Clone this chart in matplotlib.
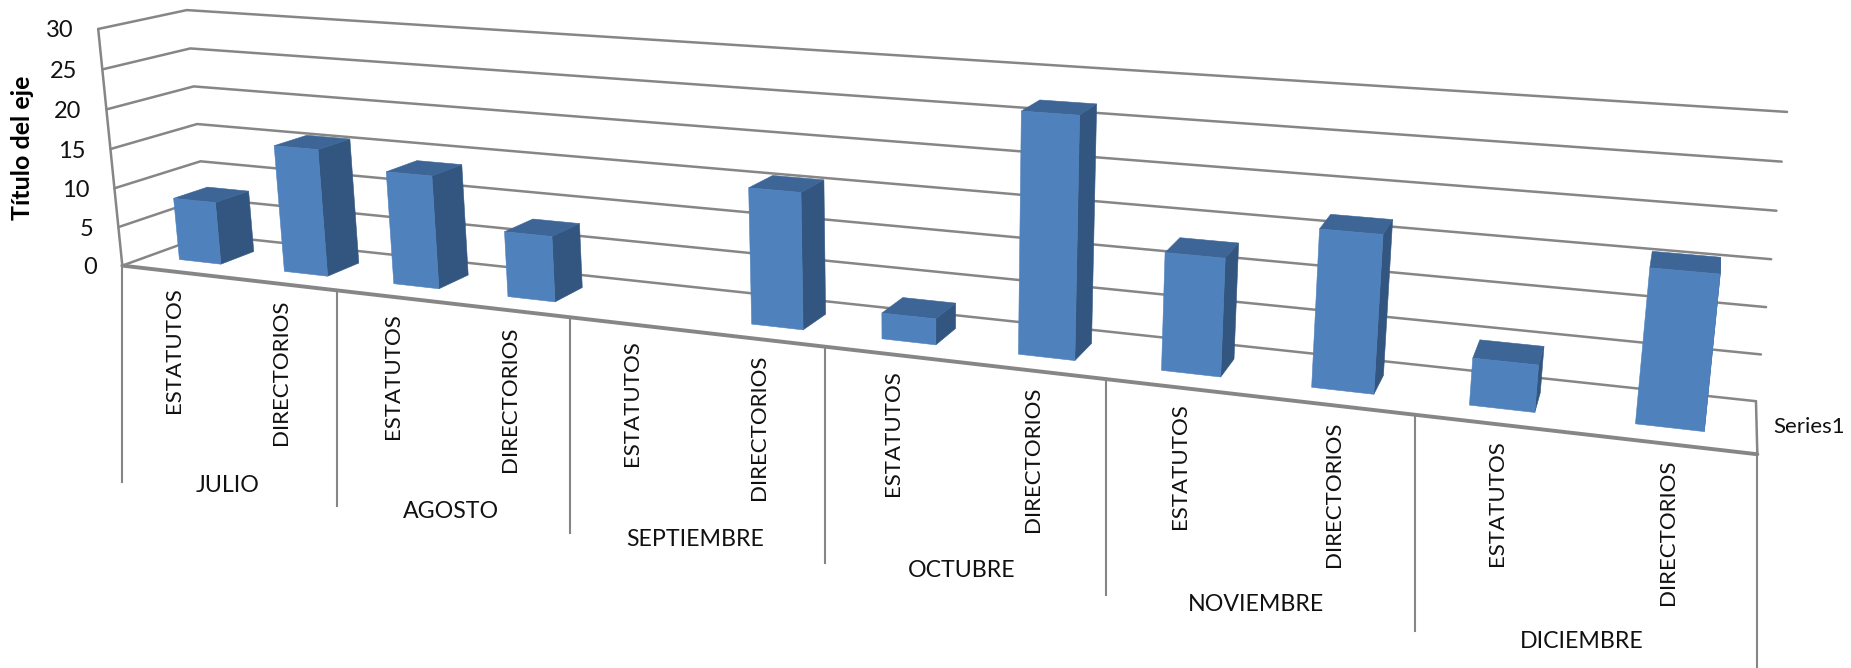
"""Excel style 3D column chart, drawn with a fitted perspective projection."""

import matplotlib

matplotlib.use("Agg")
import matplotlib.pyplot as plt
import numpy as np
from matplotlib.patches import Polygon

plt.rcParams["font.family"] = ["Lato", "DejaVu Sans"]

months = ["JULIO", "AGOSTO", "SEPTIEMBRE", "OCTUBRE", "NOVIEMBRE", "DICIEMBRE"]
sub_labels = ["ESTATUTOS", "DIRECTORIOS"]
estatutos = [8, 14, 0, 3, 13, 5]
directorios = [16, 8, 16, 27, 17, 16]
y_ticks = [0, 5, 10, 15, 20, 25, 30]
series_name = "Series1"
axis_title = "Título del eje"

FRONT = "#4F81BD"
SIDE = "#335680"
TOP = "#3D6595"
GRID = "#868686"
TEXT = "#111111"

# chart position (slot along the axis, depth 0-1, value) -> pixel in the figure
CALIBRATION = [
    (0, 0, 0, 123, 265), (0, 0, 30, 98, 29),
    (0, 1, 0, 207, 235), (0, 1, 30, 187, 10),
    (12, 1, 0, 1756, 401), (12, 1, 30, 1787, 112),
    (2, 0, 0, 336, 291), (4, 0, 0, 570, 317), (6, 0, 0, 825, 347),
    (8, 0, 0, 1106, 379), (10, 0, 0, 1415, 415), (12, 0, 0, 1757, 454),
]


def fit_projection(points):
    """Least squares fit of the 3D to 2D perspective matrix."""
    rows, target = [], []
    for u, d, v, px, py in points:
        rows.append([u, d, v, 1, 0, 0, 0, 0, -px * u, -px * d, -px * v])
        rows.append([0, 0, 0, 0, u, d, v, 1, -py * u, -py * d, -py * v])
        target += [px, py]
    coef = np.linalg.lstsq(np.array(rows, float), np.array(target, float), rcond=None)[0]
    return np.append(coef, 1.0).reshape(3, 4)


matrix = fit_projection(CALIBRATION)


def project(u, d, v):
    x, y, w = matrix @ np.array([u, d, v, 1.0])
    return x / w, y / w


def draw_line(ax, points, width=1.8, zorder=1):
    xs, ys = zip(*[project(*p) for p in points])
    ax.plot(xs, ys, color=GRID, lw=width, zorder=zorder, solid_capstyle="round")


def draw_bar(ax, slot, value, zorder):
    """Draw one column; gap width 150% leaves 0.4 of a slot for it."""
    u0, u1 = slot + 0.3, slot + 0.7
    d0, d1 = 0.3, 0.7
    faces = [
        ([(u1, d0, 0), (u1, d1, 0), (u1, d1, value), (u1, d0, value)], SIDE),
        ([(u0, d0, value), (u1, d0, value), (u1, d1, value), (u0, d1, value)], TOP),
        ([(u0, d0, 0), (u1, d0, 0), (u1, d0, value), (u0, d0, value)], FRONT),
    ]
    for corners, color in faces:
        ax.add_patch(Polygon([project(*c) for c in corners], closed=True,
                             facecolor=color, edgecolor=color, lw=0.4, zorder=zorder))


fig = plt.figure(figsize=(18.51, 6.68), dpi=100)
ax = fig.add_axes([0, 0, 1, 1])
ax.set_xlim(0, 1851)
ax.set_ylim(668, 0)
ax.axis("off")

n_slots = len(months) * 2

for tick in y_ticks:
    draw_line(ax, [(0, 0, tick), (0, 1, tick), (n_slots, 1, tick)])
    x, y = project(0, 0, tick)
    ax.text(x - 25, y + 2, str(tick), ha="right", va="center", fontsize=17, color=TEXT)

draw_line(ax, [(0, 0, 0), (0, 0, 30)])
draw_line(ax, [(n_slots, 1, 0), (n_slots, 0, 0)])
draw_line(ax, [(0, 0, 0), (n_slots, 0, 0)], width=2.8, zorder=3)

for i, values in enumerate(zip(estatutos, directorios)):
    for j, value in enumerate(values):
        slot = 2 * i + j
        if value > 0:
            draw_bar(ax, slot, value, zorder=4 + slot)
        x, y = project(slot + 0.5, 0, 0)
        ax.text(x, y + 16, sub_labels[j], rotation=90, ha="center", va="top",
                fontsize=16, color=TEXT)
    x, y = project(2 * i + 1, 0, 0)
    ax.text(x, y + 208, months[i], ha="center", va="center", fontsize=16.7, color=TEXT)

# category dividers hang a constant distance below the front edge
for slot in range(0, n_slots + 1, 2):
    x, y = project(slot, 0, 0)
    ax.plot([x, x], [y, y + 216], color=GRID, lw=1.5, zorder=2)

ax.text(1773, 427, series_name, ha="left", va="center", fontsize=16, color=TEXT)
ax.text(22, 148, axis_title, rotation=90, ha="center", va="center",
        fontsize=18, fontweight="bold", color="black")

fig.savefig("out.png", dpi=100)
plt.close(fig)
